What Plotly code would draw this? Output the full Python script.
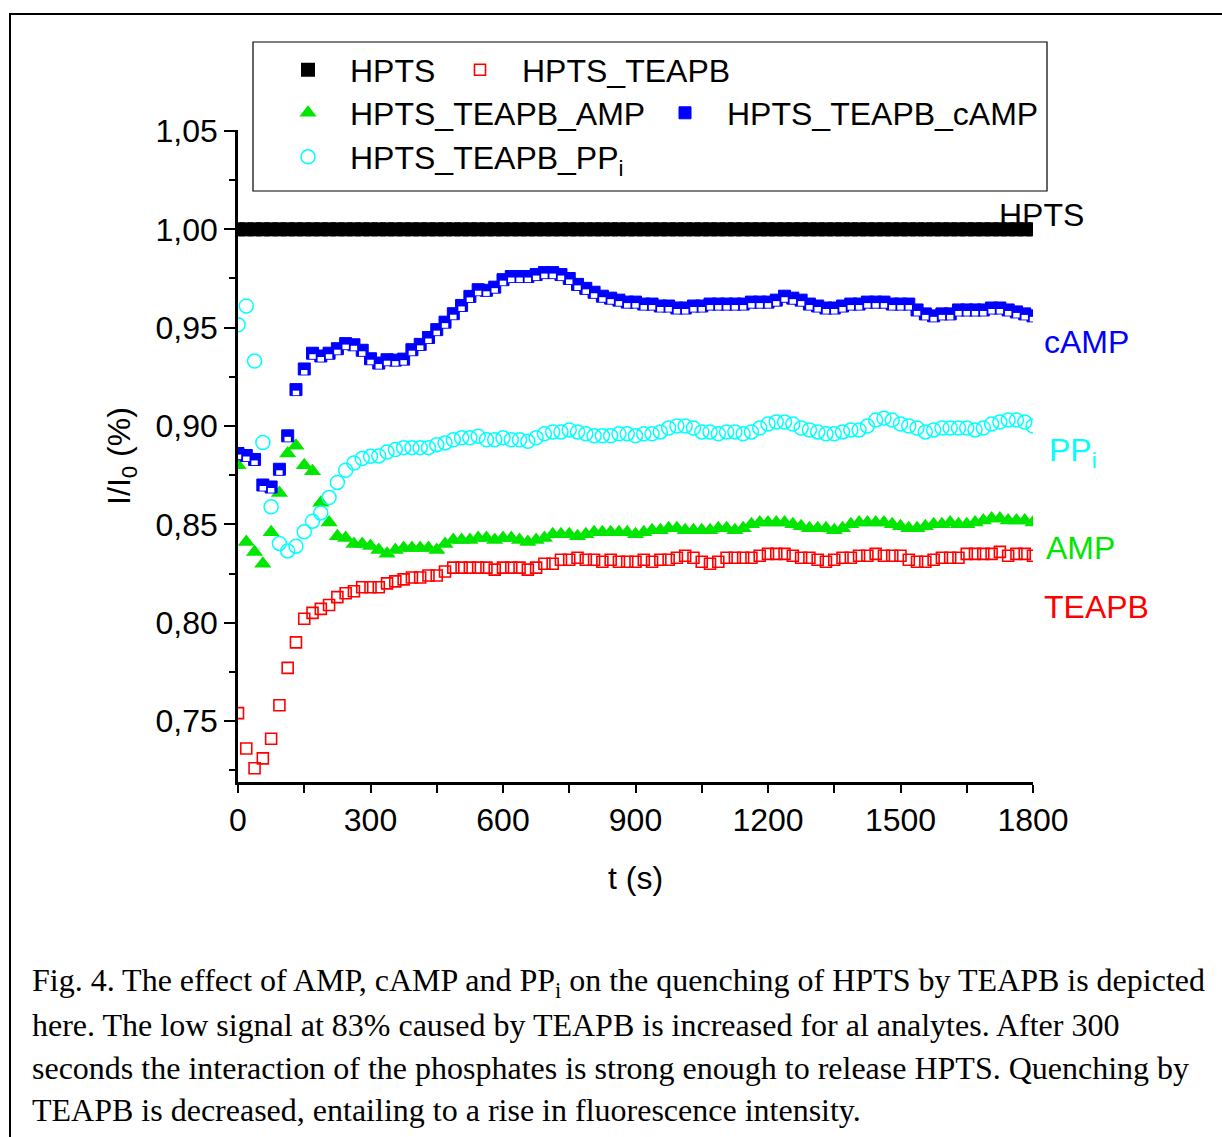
import plotly.graph_objects as go

# ---------------- data ----------------
time_s = [i * 18.75 for i in range(97)]  # sampling grid, 0 .. 1800 s

hpts = [1.0] * 97

teapb = [0.754, 0.736, 0.726, 0.731, 0.741, 0.758, 0.777, 0.790, 0.802, 0.805,
         0.807, 0.809, 0.813, 0.815, 0.816, 0.818, 0.818, 0.818, 0.820, 0.821,
         0.822, 0.823, 0.823, 0.824, 0.824, 0.826, 0.828, 0.828, 0.828, 0.828,
         0.828, 0.827, 0.828, 0.828, 0.828,
         0.827, 0.828, 0.830, 0.830, 0.832, 0.832, 0.833, 0.832, 0.832, 0.831,
         0.832, 0.831, 0.831, 0.831, 0.832, 0.831,
         0.832, 0.832, 0.833, 0.834, 0.833, 0.831, 0.830, 0.831, 0.833, 0.833,
         0.833, 0.833, 0.834, 0.835, 0.835, 0.835, 0.834, 0.833, 0.833, 0.832,
         0.831, 0.832, 0.833, 0.833, 0.834, 0.834, 0.835, 0.834, 0.834, 0.834,
         0.832, 0.831, 0.831, 0.832, 0.833, 0.833, 0.833, 0.835, 0.835, 0.835,
         0.835, 0.836, 0.834, 0.835, 0.835, 0.834, 0.834]

amp = [0.880, 0.841, 0.836, 0.830, 0.846, 0.866, 0.886, 0.890, 0.880, 0.877,
       0.861, 0.851, 0.844, 0.843, 0.840, 0.840, 0.839, 0.837, 0.835, 0.837,
       0.838, 0.838, 0.838, 0.838, 0.837, 0.840,
       0.842, 0.842, 0.842, 0.843, 0.843, 0.842, 0.843, 0.843, 0.842, 0.841,
       0.842, 0.843, 0.845, 0.845, 0.845, 0.844, 0.845, 0.846, 0.846, 0.846,
       0.846, 0.846, 0.845, 0.846, 0.847, 0.847, 0.848, 0.848, 0.847, 0.847,
       0.847, 0.847, 0.848, 0.848, 0.847, 0.848, 0.850, 0.851, 0.851, 0.851,
       0.851, 0.850, 0.849, 0.848, 0.848,
       0.848, 0.847, 0.848, 0.850, 0.851, 0.851, 0.851, 0.851, 0.850, 0.849,
       0.848, 0.848, 0.849, 0.850, 0.850, 0.851, 0.850, 0.850, 0.851, 0.852,
       0.853, 0.853, 0.852, 0.852, 0.852, 0.851]

camp = [0.886, 0.885, 0.883, 0.870, 0.869, 0.878, 0.895, 0.9185, 0.929, 0.937,
        0.9356, 0.937, 0.9393, 0.9419, 0.9413, 0.9385, 0.9342, 0.932, 0.9337, 0.9335,
        0.934, 0.9388, 0.9415, 0.945, 0.949, 0.9528, 0.9571, 0.9613, 0.9659, 0.9693,
        0.969, 0.9706, 0.9744, 0.976, 0.976, 0.976,
        0.977, 0.978, 0.978, 0.977, 0.975, 0.972, 0.970, 0.968, 0.966, 0.965,
        0.964, 0.963, 0.963, 0.962, 0.962, 0.961, 0.961, 0.960, 0.960, 0.961,
        0.961, 0.962, 0.962, 0.962, 0.962, 0.962, 0.963, 0.963, 0.963, 0.964,
        0.966, 0.965, 0.964, 0.962, 0.961,
        0.960, 0.960, 0.961, 0.962, 0.962, 0.963, 0.963, 0.963, 0.962, 0.962,
        0.962, 0.959, 0.957, 0.956, 0.957, 0.957, 0.959, 0.959, 0.959, 0.959,
        0.960, 0.960, 0.959, 0.958, 0.957, 0.956]

ppi = [0.9515, 0.961, 0.933, 0.8916, 0.8589, 0.8403, 0.8365, 0.8389, 0.8462, 0.8516,
       0.8558, 0.8636, 0.8713, 0.8775, 0.8812, 0.8835, 0.8846, 0.8848, 0.8868, 0.888,
       0.889, 0.889, 0.889, 0.889, 0.8905, 0.8914, 0.893, 0.894, 0.894, 0.8948,
       0.893, 0.893, 0.894, 0.893, 0.893, 0.8922,
       0.894, 0.896, 0.897, 0.897, 0.898, 0.897, 0.896, 0.895, 0.895, 0.895,
       0.896, 0.896, 0.895, 0.896, 0.896, 0.897, 0.899, 0.900, 0.900, 0.899,
       0.897, 0.897, 0.896, 0.897, 0.897, 0.896, 0.897, 0.899, 0.901, 0.902,
       0.902, 0.901, 0.899, 0.898, 0.897,
       0.896, 0.896, 0.897, 0.898, 0.898, 0.900, 0.903, 0.904, 0.903, 0.901,
       0.900, 0.899, 0.897, 0.898, 0.899, 0.899, 0.899, 0.899, 0.898, 0.899,
       0.901, 0.902, 0.903, 0.903, 0.902, 0.900]

series_names = ["HPTS", "HPTS_TEAPB", "HPTS_TEAPB_AMP", "HPTS_TEAPB_cAMP",
                "HPTS_TEAPB_PP<sub>i</sub>"]
end_labels = ["HPTS", "cAMP", "PP<sub>i</sub>", "AMP", "TEAPB"]

caption_lines = [
    "Fig. 4. The effect of AMP, cAMP and PP<sub>i</sub> on the quenching of HPTS by TEAPB is depicted",
    "here. The low signal at 83% caused by TEAPB is increased for al analytes. After 300",
    "seconds the interaction of the phosphates is strong enough to release HPTS. Quenching by",
    "TEAPB is decreased, entailing to a rise in fluorescence intensity.",
]

# ---------------- figure ----------------
W, H = 1222, 1137
L, R, T, B = 238, 189, 130, 355
PW, PH = W - L - R, H - T - B
YMIN, YMAX = 0.719, 1.0505
SHIFT = 3.3 * (YMAX - YMIN) / PH  # pixel shift for half-filled cAMP markers


def px_x(px):
    return (px - L) / PW


def px_y(py):
    return (H - B - py) / PH


SANS = "Liberation Sans, Arial, sans-serif"
SERIF = "Liberation Serif, Times New Roman, serif"

fig = go.Figure()

fig.add_trace(go.Scatter(x=time_s, y=hpts, mode="markers", name=series_names[0],
                         legend="legend",
                         marker=dict(symbol="square", size=14, color="black",
                                     line=dict(width=0))))
fig.add_trace(go.Scatter(x=time_s, y=teapb, mode="markers", name=series_names[1],
                         legend="legend2",
                         marker=dict(symbol="square-open", size=11, color="#ff0000",
                                     line=dict(width=1.6, color="#ff0000"))))
fig.add_trace(go.Scatter(x=time_s, y=amp, mode="markers", name=series_names[2],
                         legend="legend3",
                         marker=dict(symbol="triangle-up", size=15, color="#00e600",
                                     line=dict(width=0))))
fig.add_trace(go.Scatter(x=time_s, y=ppi, mode="markers", name=series_names[4],
                         legend="legend5",
                         marker=dict(symbol="circle-open", size=14, color="#00ffff",
                                     line=dict(width=1.5, color="#00ffff"))))
fig.add_trace(go.Scatter(x=time_s, y=camp, mode="markers", name=series_names[3],
                         legend="legend4", legendgroup="camp",
                         marker=dict(symbol="square", size=12, color="#0000ff",
                                     line=dict(width=1, color="#0000ff"))))
# white lower half of the half-filled cAMP squares (same data, shifted overlay axis)
fig.add_trace(go.Scatter(x=time_s, y=camp, mode="markers", name=series_names[3],
                         yaxis="y2", showlegend=False, legendgroup="camp",
                         hoverinfo="skip",
                         marker=dict(symbol="line-ew", size=4.6, color="white",
                                     line=dict(width=4.6, color="white"))))

annotations = []
label_colors = ["black", "#0000ff", "#00ffff", "#00e600", "#ff0000"]
label_px = [(997, 215), (1042, 342), (1047, 452), (1044, 548), (1042, 607)]
for txt, col, (lx, ly) in zip(end_labels, label_colors, label_px):
    annotations.append(dict(text=txt, x=px_x(lx), y=px_y(ly), xref="paper", yref="paper",
                            xanchor="left", yanchor="middle", showarrow=False,
                            font=dict(family=SANS, size=32, color=col)))

for line, cy in zip(caption_lines, [983, 1025, 1068, 1110]):
    annotations.append(dict(text=line, x=px_x(30), y=px_y(cy), xref="paper", yref="paper",
                            xanchor="left", yanchor="middle", showarrow=False, align="left",
                            font=dict(family=SERIF, size=32, color="black")))

shapes = [
    # legend box
    dict(type="rect", xref="paper", yref="paper", x0=px_x(253), x1=px_x(1047),
         y0=px_y(191), y1=px_y(42), line=dict(color="black", width=1.2)),
    # outer frame
    dict(type="rect", xref="paper", yref="paper", x0=px_x(10), x1=px_x(1260),
         y0=px_y(1160), y1=px_y(14), line=dict(color="black", width=2)),
]

ITEMW = 74
SYM_OFF = 42  # approx. distance from legend left edge to symbol centre


def leg(marker_px, row_py):
    return dict(x=px_x(marker_px - SYM_OFF), y=px_y(row_py), orientation="h",
                xanchor="left", yanchor="middle", itemwidth=ITEMW,
                bgcolor="rgba(0,0,0,0)", borderwidth=0,
                font=dict(family=SANS, size=32, color="black"),
                itemclick=False, itemdoubleclick=False)


fig.update_layout(
    width=W, height=H,
    margin=dict(l=L, r=R, t=T, b=B, pad=0),
    paper_bgcolor="white", plot_bgcolor="white",
    separators=",.",
    font=dict(family=SANS, size=32, color="black"),
    xaxis=dict(range=[0, 1800], tickvals=[0, 300, 600, 900, 1200, 1500, 1800],
               ticks="outside", ticklen=8, tickwidth=2, tickcolor="black",
               minor=dict(dtick=150, tick0=0, ticks="outside", ticklen=8, tickwidth=2,
                          tickcolor="black"),
               showline=True, linecolor="black", linewidth=2.5, mirror=False,
               showgrid=False, zeroline=False,
               tickfont=dict(family=SANS, size=32),
               title=dict(text="t (s)", font=dict(family=SANS, size=32), standoff=30)),
    yaxis=dict(range=[YMIN, YMAX], tickvals=[0.75, 0.80, 0.85, 0.90, 0.95, 1.00, 1.05],
               tickformat=".2f",
               ticks="outside", ticklen=11, tickwidth=2, tickcolor="black",
               minor=dict(dtick=0.025, tick0=0.75, ticks="outside", ticklen=6, tickwidth=2,
                          tickcolor="black"),
               showline=True, linecolor="black", linewidth=2.5, mirror=False,
               showgrid=False, zeroline=False,
               tickfont=dict(family=SANS, size=32),
               title=dict(text="I/I<sub>0</sub> (%)", font=dict(family=SANS, size=32),
                          standoff=16)),
    yaxis2=dict(range=[YMIN + SHIFT, YMAX + SHIFT], overlaying="y", visible=False,
                showgrid=False, zeroline=False),
    legend=leg(308, 70),
    legend2=leg(480, 70),
    legend3=leg(308, 113),
    legend4=leg(685, 113),
    legend5=leg(308, 157),
    annotations=annotations,
    shapes=shapes,
)

fig.write_html("out.html")
